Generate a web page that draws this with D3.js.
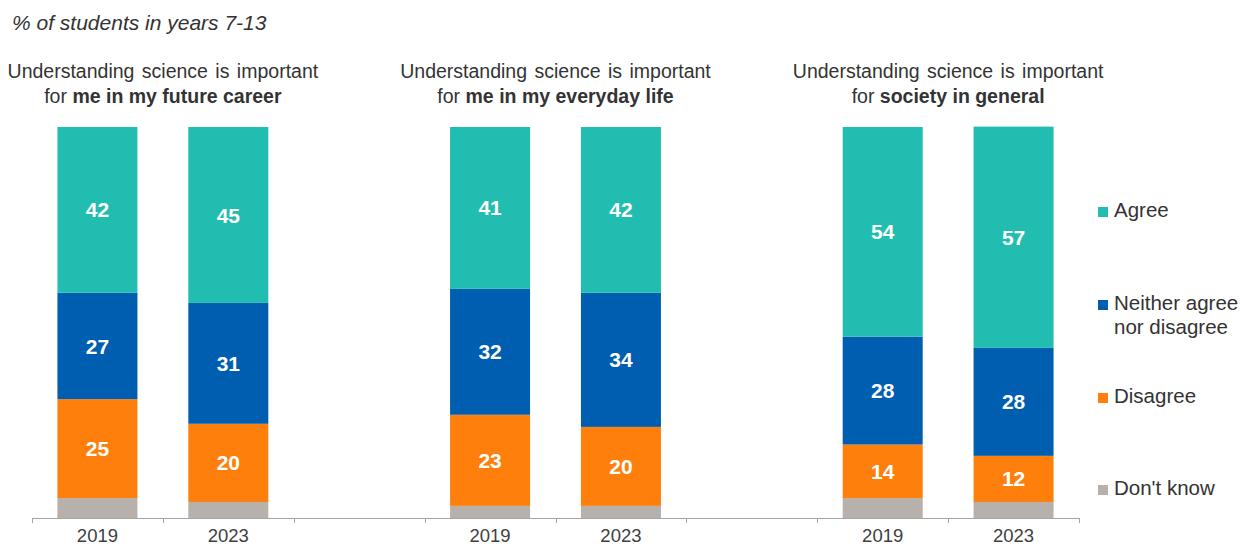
<!DOCTYPE html>
<html>
<head>
<meta charset="utf-8">
<script src="https://cdn.jsdelivr.net/npm/d3@7"></script>
<style>
  body { margin: 0; background: #fff; }
  text { font-family: "Liberation Sans", Arial, sans-serif; }
</style>
</head>
<body>
<div id="chart"></div>
<script>
// data (percent of students)
var groups = ["career", "life", "society"];
var groupTitleBold = ["me in my future career", "me in my everyday life", "society in general"];
var years = ["2019", "2023"];
var responses = ["Agree", "Neither agree nor disagree", "Disagree", "Don't know"];

// each series: [career 2019, career 2023, life 2019, life 2023, society 2019, society 2023]
var agree = [42.4, 45.0, 41.4, 42.4, 53.6, 56.6];
var neither = [27.2, 30.9, 32.2, 34.3, 27.6, 27.6];
var disagree = [25.3, 20.0, 23.3, 20.2, 13.7, 11.8];
var dontKnow = [5.1, 4.1, 3.1, 3.1, 5.1, 4.1];

var colors = ["#22bdb1", "#005eb0", "#fe7f0c", "#b8b0ab"];

var width = 1244, height = 546;
var margin = { top: 127, bottom: 28, left: 32 };
var plotW = 1079 - margin.left;
var plotH = height - margin.top - margin.bottom;

var svg = d3.select("#chart")
    .append("svg")
    .attr("width", width)
    .attr("height", height);

// 8 slots: two bars per group, one empty slot between groups
var slots = ["s0", "s1", "gap1", "s2", "s3", "gap2", "s4", "s5"];
var barSlots = ["s0", "s1", "s2", "s3", "s4", "s5"];

var x = d3.scaleBand()
    .domain(slots)
    .range([margin.left, margin.left + plotW])
    .paddingInner(0)
    .paddingOuter(0);

var y = d3.scaleLinear()
    .domain([0, 100])
    .range([margin.top + plotH, margin.top]);

var rows = barSlots.map(function(s, i) {
    return {
        slot: s,
        year: years[i % 2],
        Agree: agree[i],
        "Neither agree nor disagree": neither[i],
        Disagree: disagree[i],
        "Don't know": dontKnow[i]
    };
});

var stack = d3.stack().keys(responses.slice().reverse());
var series = stack(rows);

var barW = 80;

series.forEach(function(s) {
    var ci = responses.indexOf(s.key);
    var g = svg.append("g");
    g.selectAll("rect")
        .data(s)
        .enter()
        .append("rect")
        .attr("x", function(d) { return x(d.data.slot) + x.bandwidth() / 2 - barW / 2; })
        .attr("y", function(d) { return y(d[1]); })
        .attr("width", barW)
        .attr("height", function(d) { return y(d[0]) - y(d[1]); })
        .attr("fill", colors[ci]);

    if (s.key != "Don't know") {
        g.selectAll("text")
            .data(s)
            .enter()
            .append("text")
            .attr("x", function(d) { return x(d.data.slot) + x.bandwidth() / 2; })
            .attr("y", function(d) { return (y(d[0]) + y(d[1])) / 2; })
            .attr("dy", "0.36em")
            .attr("text-anchor", "middle")
            .attr("fill", "#fff")
            .style("font-size", "21px")
            .style("font-weight", "bold")
            .text(function(d) { return Math.round(d[1] - d[0]); });
    }
});

// x axis: ticks at every slot boundary
var axisY = margin.top + plotH;
var axisG = svg.append("g").attr("stroke", "#a6a6a6").attr("stroke-width", 1);
axisG.append("line")
    .attr("x1", margin.left).attr("x2", margin.left + plotW)
    .attr("y1", axisY + 0.5).attr("y2", axisY + 0.5);
var bounds = slots.map(function(s) { return x(s); }).concat([margin.left + plotW]);
axisG.selectAll("line.tick")
    .data(bounds)
    .enter()
    .append("line")
    .attr("class", "tick")
    .attr("x1", function(d) { return Math.round(d) + 0.5; })
    .attr("x2", function(d) { return Math.round(d) + 0.5; })
    .attr("y1", axisY)
    .attr("y2", axisY + 5);

svg.selectAll("text.year")
    .data(rows)
    .enter()
    .append("text")
    .attr("class", "year")
    .attr("x", function(d) { return x(d.slot) + x.bandwidth() / 2; })
    .attr("y", 542)
    .attr("text-anchor", "middle")
    .attr("fill", "#404040")
    .style("font-size", "18.5px")
    .text(function(d) { return d.year; });

// group titles
groups.forEach(function(gname, i) {
    var cx = x(barSlots[i * 2 + 1]);
    var t = svg.append("text")
        .attr("text-anchor", "middle")
        .attr("fill", "#333")
        .style("font-size", "19.5px");
    t.append("tspan")
        .attr("x", cx)
        .attr("y", 78)
        .style("word-spacing", "2px")
        .text("Understanding science is important");
    var t2 = t.append("tspan")
        .attr("x", cx)
        .attr("y", 103);
    t2.append("tspan").text("for ");
    t2.append("tspan").style("font-weight", "bold").text(groupTitleBold[i]);
});

// subtitle
svg.append("text")
    .attr("x", 12)
    .attr("y", 30)
    .attr("fill", "#333")
    .style("font-size", "21px")
    .style("font-style", "italic")
    .text("% of students in years 7-13");

// legend
var legendY = [217, 310, 403, 495];
var legend = svg.append("g");
responses.forEach(function(r, i) {
    legend.append("rect")
        .attr("x", 1098)
        .attr("y", legendY[i] - 10)
        .attr("width", 10)
        .attr("height", 10)
        .attr("fill", colors[i]);
    var lt = legend.append("text")
        .attr("fill", "#333")
        .style("font-size", "20.5px");
    if (r == "Neither agree nor disagree") {
        lt.append("tspan").attr("x", 1114).attr("y", legendY[i]).text("Neither agree");
        lt.append("tspan").attr("x", 1114).attr("y", legendY[i] + 24).text("nor disagree");
    } else {
        lt.attr("x", 1114).attr("y", legendY[i]).text(r);
    }
});
</script>
</body>
</html>
